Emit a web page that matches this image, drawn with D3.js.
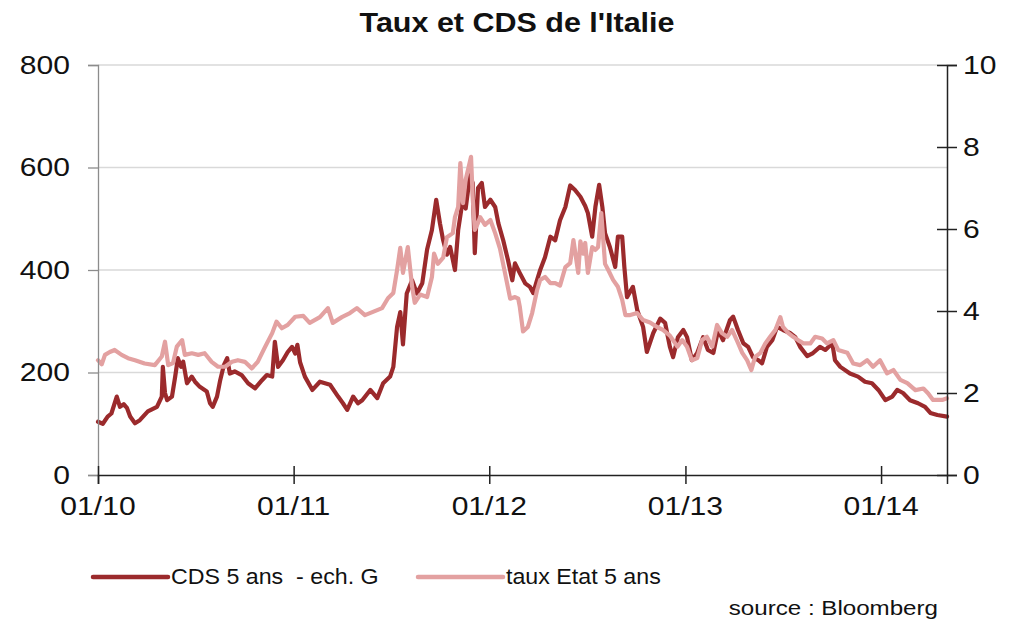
<!DOCTYPE html>
<html>
<head>
<meta charset="utf-8">
<script src="https://cdn.jsdelivr.net/npm/d3@7/dist/d3.min.js"></script>
<style>
  body { margin: 0; background: #fff; }
  svg { display: block; }
  text { font-family: "Liberation Sans", Arial, sans-serif; fill: #111; white-space: pre; }
</style>
</head>
<body>
<svg id="chart" width="1014" height="621"></svg>
<script>
// CDS 5 ans (points de base, échelle gauche)
const cdsDates = [
  "2010-01-01","2010-01-10","2010-01-19","2010-01-26","2010-02-05","2010-02-11","2010-02-18","2010-02-24",
  "2010-03-02","2010-03-11","2010-03-20","2010-04-04","2010-04-21","2010-04-30","2010-05-02","2010-05-06",
  "2010-05-10","2010-05-19","2010-05-25","2010-05-30","2010-06-05","2010-06-09","2010-06-16","2010-06-25",
  "2010-07-01","2010-07-10","2010-07-23","2010-07-29","2010-08-03","2010-08-11","2010-08-17","2010-08-24",
  "2010-08-30","2010-09-04","2010-09-13","2010-09-26","2010-10-08","2010-10-21","2010-11-03","2010-11-12",
  "2010-11-22","2010-11-27","2010-12-03","2010-12-12","2010-12-21","2010-12-29","2011-01-04","2011-01-08",
  "2011-01-13","2011-01-22","2011-02-05","2011-02-19","2011-03-10","2011-03-25","2011-04-03","2011-04-11",
  "2011-04-22","2011-05-01","2011-05-09","2011-05-24","2011-06-06","2011-06-17","2011-06-30","2011-07-06",
  "2011-07-13","2011-07-19","2011-07-24","2011-07-31","2011-08-10","2011-08-19","2011-08-29","2011-09-07",
  "2011-09-16","2011-09-24","2011-10-01","2011-10-07","2011-10-14","2011-10-20","2011-10-29","2011-11-04",
  "2011-11-13","2011-11-18","2011-11-26","2011-12-01","2011-12-05","2011-12-11","2011-12-18","2011-12-24",
  "2012-01-03","2012-01-12","2012-01-18","2012-01-27","2012-02-05","2012-02-13","2012-02-18","2012-02-27",
  "2012-03-08","2012-03-17","2012-03-23","2012-03-30","2012-04-05","2012-04-14","2012-04-24","2012-05-03",
  "2012-05-12","2012-05-22","2012-05-31","2012-06-09","2012-06-19","2012-06-28","2012-07-03","2012-07-11",
  "2012-07-17","2012-07-24","2012-07-30","2012-08-04","2012-08-13","2012-08-23","2012-08-28","2012-09-05",
  "2012-09-09","2012-09-14","2012-09-25","2012-10-03","2012-10-14","2012-10-21","2012-11-02","2012-11-15",
  "2012-11-24","2012-12-03","2012-12-09","2012-12-18","2012-12-28","2013-01-04","2013-01-13","2013-01-23",
  "2013-02-03","2013-02-12","2013-02-22","2013-03-03","2013-03-12","2013-03-25","2013-03-31","2013-04-09",
  "2013-04-19","2013-04-28","2013-05-07","2013-05-17","2013-05-24","2013-06-02","2013-06-12","2013-06-21",
  "2013-07-02","2013-07-15","2013-07-25","2013-08-03","2013-08-16","2013-08-27","2013-09-09","2013-09-19",
  "2013-10-02","2013-10-07","2013-10-17","2013-11-04","2013-11-19","2013-12-02","2013-12-15","2013-12-27",
  "2014-01-09","2014-01-22","2014-01-31","2014-02-11","2014-02-24","2014-03-11","2014-03-24","2014-04-03",
  "2014-04-16","2014-05-04"
];
const cdsValues = [
  104,100,114,120,153,133,138,131,
  114,101,107,124,133,153,211,160,
  146,153,192,228,211,221,179,192,
  182,172,163,140,133,153,185,215,
  228,198,202,195,179,169,185,195,
  192,260,211,224,240,250,237,254,
  220,192,166,182,176,153,140,127,
  153,140,146,166,150,179,192,211,
  289,318,255,354,380,354,374,440,
  478,537,491,458,430,445,400,478,
  540,520,585,570,433,560,570,523,
  537,523,491,458,419,380,413,394,
  374,367,355,380,400,425,465,458,
  497,523,565,556,543,525,511,465,
  523,566,523,472,445,406,465,465,
  406,347,367,322,289,240,277,305,
  297,250,230,269,283,269,224,238,
  269,244,238,283,263,302,309,283,
  257,250,230,224,218,250,263,289,
  283,277,269,250,232,238,250,244,
  257,224,211,198,192,182,179,166,
  146,153,166,160,146,140,133,121,
  117,114
];

// Taux d'État italien à 5 ans (%, échelle droite)
const tauxDates = [
  "2010-01-01","2010-01-08","2010-01-14","2010-01-23","2010-02-01","2010-02-14","2010-02-26","2010-03-11",
  "2010-03-29","2010-04-17","2010-04-30","2010-05-06","2010-05-12","2010-05-21","2010-05-28","2010-06-07",
  "2010-06-12","2010-06-25","2010-07-07","2010-07-19","2010-08-01","2010-08-13","2010-08-26","2010-09-08",
  "2010-09-19","2010-10-02","2010-10-15","2010-10-26","2010-11-09","2010-11-22","2010-11-30","2010-12-10",
  "2010-12-21","2011-01-04","2011-01-19","2011-01-31","2011-02-19","2011-03-06","2011-03-15","2011-04-01",
  "2011-04-16","2011-04-29","2011-05-14","2011-05-29","2011-06-15","2011-06-26","2011-07-06","2011-07-13",
  "2011-07-19","2011-07-24","2011-08-02","2011-08-10","2011-08-15","2011-08-25","2011-09-07","2011-09-16",
  "2011-09-20","2011-09-27","2011-10-07","2011-10-14","2011-10-25","2011-10-29","2011-11-04","2011-11-08",
  "2011-11-13","2011-11-18","2011-11-28","2011-12-01","2011-12-05","2011-12-11","2011-12-15","2011-12-24",
  "2012-01-03","2012-01-12","2012-01-21","2012-01-30","2012-02-09","2012-02-18","2012-02-24","2012-02-27",
  "2012-03-04","2012-03-13","2012-03-21","2012-03-30","2012-04-05","2012-04-14","2012-04-24","2012-05-03",
  "2012-05-12","2012-05-22","2012-05-31","2012-06-06","2012-06-15","2012-06-19","2012-06-24","2012-06-28",
  "2012-07-03","2012-07-11","2012-07-17","2012-07-22","2012-07-28","2012-08-04","2012-08-10","2012-08-19",
  "2012-08-28","2012-09-05","2012-09-11","2012-09-20","2012-10-03","2012-10-14","2012-10-27","2012-11-09",
  "2012-11-20","2012-12-03","2012-12-17","2012-12-26","2013-01-04","2013-01-13","2013-01-23","2013-02-01",
  "2013-02-10","2013-02-20","2013-03-01","2013-03-10","2013-03-20","2013-03-29","2013-04-08","2013-04-17",
  "2013-04-26","2013-05-04","2013-05-11","2013-05-21","2013-05-30","2013-06-08","2013-06-18","2013-06-27",
  "2013-07-02","2013-07-12","2013-07-21","2013-07-30","2013-08-09","2013-08-22","2013-08-31","2013-09-13",
  "2013-09-22","2013-10-04","2013-10-13","2013-10-30","2013-11-10","2013-11-23","2013-12-06","2013-12-17",
  "2013-12-30","2014-01-12","2014-01-24","2014-02-06","2014-02-19","2014-03-06","2014-03-21","2014-03-30",
  "2014-04-08","2014-04-25","2014-05-04"
];
const tauxValues = [
  2.80,2.70,2.93,3.00,3.05,2.93,2.85,2.80,
  2.72,2.68,2.89,3.25,2.68,2.73,3.13,3.29,
  2.93,2.97,2.93,2.97,2.76,2.64,2.64,2.76,
  2.80,2.76,2.60,2.76,3.13,3.46,3.74,3.58,
  3.66,3.86,3.88,3.71,3.85,4.07,3.71,3.85,
  3.95,4.07,3.90,3.98,4.07,4.31,4.44,5.00,
  5.54,4.93,5.56,4.60,4.20,4.40,4.34,4.83,
  5.40,5.15,5.30,5.80,5.90,6.29,6.54,7.61,
  6.63,7.20,7.76,6.78,5.98,6.15,6.29,6.10,
  6.22,5.90,5.52,4.95,4.30,4.34,4.30,4.10,
  3.50,3.61,3.95,4.50,4.76,4.83,4.68,4.68,
  4.62,5.07,5.17,5.73,4.93,5.70,5.40,5.66,
  4.93,5.56,5.49,5.56,6.39,5.15,5.00,4.76,
  4.59,4.27,3.90,3.90,3.95,3.78,3.72,3.61,
  3.54,3.40,3.13,3.29,3.13,2.80,2.85,3.29,
  3.37,3.13,3.66,3.46,3.37,3.54,3.25,2.98,
  2.80,2.56,2.88,2.98,3.21,3.37,3.54,3.85,
  3.61,3.46,3.37,3.29,3.21,3.21,3.37,3.33,
  3.21,3.29,3.05,2.98,2.72,2.68,2.80,2.64,
  2.80,2.48,2.56,2.32,2.24,2.07,2.11,1.99,
  1.83,1.83,1.87
];

const leftTicks = [0, 200, 400, 600, 800];
const rightTicks = [0, 2, 4, 6, 8, 10];
const xTickDates = ["2010-01-01", "2011-01-01", "2012-01-01", "2013-01-01", "2014-01-01"];
const xTickLabels = ["01/10", "01/11", "01/12", "01/13", "01/14"];

const titleText = "Taux et CDS de l'Italie";
const legendLabels = ["CDS 5 ans  - ech. G", "taux Etat 5 ans"];
const sourceText = "source : Bloomberg";

const parse = d3.timeParse("%Y-%m-%d");
const cds = cdsDates.map((d, i) => ({ date: parse(d), value: cdsValues[i] }));
const taux = tauxDates.map((d, i) => ({ date: parse(d), value: tauxValues[i] }));

const plot = { left: 98, right: 947, top: 65, bottom: 475 };
const COL_CDS = "#9b2a2c";
const COL_TAUX = "#e3a1a1";
const STRETCH = 1.18; // labels are set slightly wide

const svg = d3.select("#chart");

const x = d3.scaleTime()
  .domain([parse("2010-01-01"), parse("2014-05-04")])
  .range([plot.left, plot.right]);
const yL = d3.scaleLinear().domain([0, 800]).range([plot.bottom, plot.top]);
const yR = d3.scaleLinear().domain([0, 10]).range([plot.bottom, plot.top]);

// horizontal gridlines
svg.append("g")
  .selectAll("line")
  .data(leftTicks.filter(t => t > 0))
  .join("line")
  .attr("x1", plot.left).attr("x2", plot.right)
  .attr("y1", d => yL(d)).attr("y2", d => yL(d))
  .attr("stroke", "#d9d9d9").attr("stroke-width", 1.3);

// series
const lineCds = d3.line().x(d => x(d.date)).y(d => yL(d.value));
const lineTaux = d3.line().x(d => x(d.date)).y(d => yR(d.value));

svg.append("path").datum(cds)
  .attr("d", lineCds).attr("fill", "none")
  .attr("stroke", COL_CDS).attr("stroke-width", 4.2)
  .attr("stroke-linejoin", "round").attr("stroke-linecap", "round");

svg.append("path").datum(taux)
  .attr("d", lineTaux).attr("fill", "none")
  .attr("stroke", COL_TAUX).attr("stroke-width", 4.2)
  .attr("stroke-linejoin", "round").attr("stroke-linecap", "round");

// left axis (grey)
const axL = svg.append("g")
  .attr("transform", `translate(${plot.left},0)`)
  .call(d3.axisLeft(yL).tickValues(leftTicks).tickSize(10).tickFormat(""));
axL.select(".domain").attr("stroke", "#8c8c8c").attr("stroke-width", 1.3);
axL.selectAll(".tick line").attr("stroke", "#8c8c8c").attr("stroke-width", 1.3);

// right axis (black, ticks crossing the line)
const axR = svg.append("g")
  .attr("transform", `translate(${plot.right},0)`)
  .call(d3.axisRight(yR).tickValues(rightTicks).tickSize(10).tickFormat(""));
axR.select(".domain").attr("stroke", "#222").attr("stroke-width", 1.5);
axR.selectAll(".tick line").attr("x1", -10).attr("stroke", "#222").attr("stroke-width", 1.5);

// bottom axis
const axB = svg.append("g")
  .attr("transform", `translate(0,${plot.bottom})`)
  .call(d3.axisBottom(x).tickValues(xTickDates.map(parse)).tickSize(9).tickFormat(""));
axB.select(".domain").attr("stroke", "#222").attr("stroke-width", 1.5);
axB.selectAll(".tick line").attr("y1", -9).attr("stroke", "#222").attr("stroke-width", 1.5);

// stretched text helper
function label(g, tx, ty, str, opts) {
  const t = g.append("text")
    .attr("transform", `translate(${tx},${ty}) scale(${opts.sx || STRETCH},1)`)
    .attr("text-anchor", opts.anchor || "start")
    .attr("dominant-baseline", "central")
    .attr("xml:space", "preserve")
    .style("font-size", opts.size + "px")
    .text(str);
  if (opts.weight) t.style("font-weight", opts.weight);
  return t;
}

const labels = svg.append("g");
leftTicks.forEach(v => label(labels, 70, yL(v), String(v), { size: 25.5, anchor: "end" }));
rightTicks.forEach(v => label(labels, 963, yR(v), String(v), { size: 25.5, anchor: "start" }));
xTickDates.forEach((d, i) => label(labels, x(parse(d)), 506, xTickLabels[i], { size: 25.5, anchor: "middle" }));

// title
label(labels, 517, 22, titleText, { size: 28.5, anchor: "middle", weight: "bold", sx: 1.07 });

// legend
const legend = svg.append("g");
const legendItems = [
  { x0: 93, x1: 168, color: COL_CDS, text: legendLabels[0] },
  { x0: 418, x1: 503, color: COL_TAUX, text: legendLabels[1] }
];
legendItems.forEach(it => {
  legend.append("line")
    .attr("x1", it.x0).attr("x2", it.x1).attr("y1", 577).attr("y2", 577)
    .attr("stroke", it.color).attr("stroke-width", 4.5).attr("stroke-linecap", "round");
  label(legend, it.x1 + 3, 577, it.text, { size: 21.5, anchor: "start", sx: 1.08 });
});
label(legend, 938, 608, sourceText, { size: 21, anchor: "end", sx: 1.15 });
</script>
</body>
</html>
